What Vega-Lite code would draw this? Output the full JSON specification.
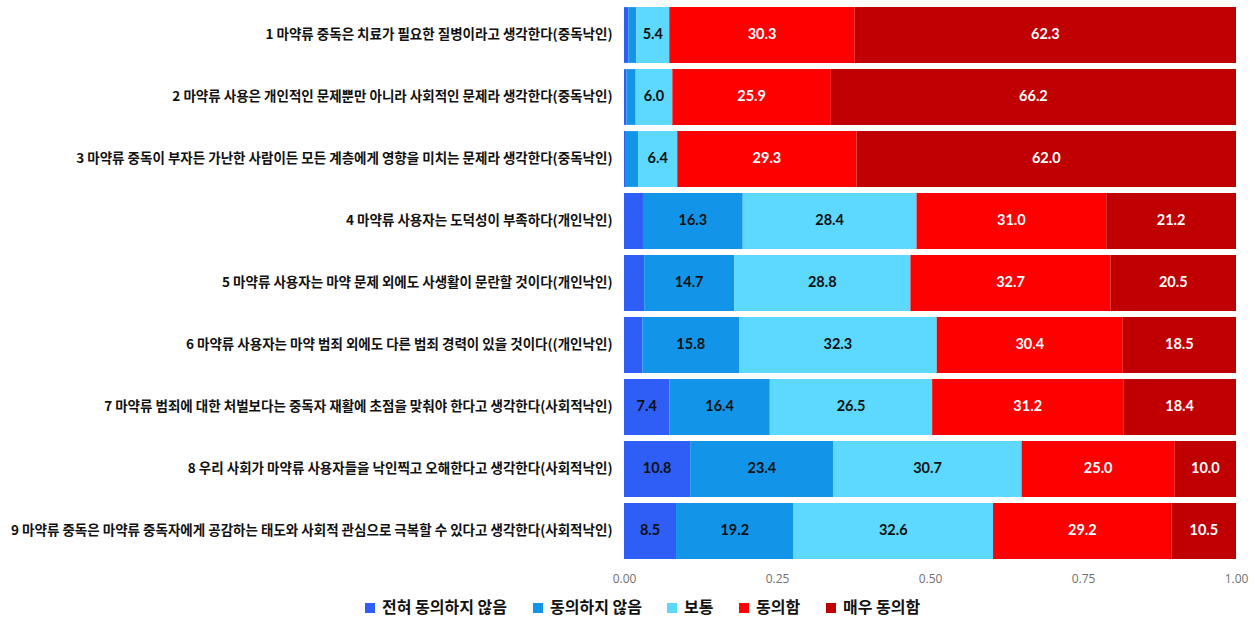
{
  "$schema": "https://vega.github.io/schema/vega-lite/v6.json",
  "autosize": {"type": "none"},
  "width": 612,
  "height": 558,
  "padding": {"left": 624, "top": 4, "right": 22, "bottom": 63},
  "background": "white",
  "config": {"view": {"stroke": null}},
  "data": {"values": [
    {"q": "1 마약류 중독은 치료가 필요한 질병이라고 생각한다(중독낙인)", "n": 1, "r": "전혀 동의하지 않음", "v": 0.7},
    {"q": "1 마약류 중독은 치료가 필요한 질병이라고 생각한다(중독낙인)", "n": 2, "r": "동의하지 않음", "v": 1.3},
    {"q": "1 마약류 중독은 치료가 필요한 질병이라고 생각한다(중독낙인)", "n": 3, "r": "보통", "v": 5.4},
    {"q": "1 마약류 중독은 치료가 필요한 질병이라고 생각한다(중독낙인)", "n": 4, "r": "동의함", "v": 30.3},
    {"q": "1 마약류 중독은 치료가 필요한 질병이라고 생각한다(중독낙인)", "n": 5, "r": "매우 동의함", "v": 62.3},
    {"q": "2 마약류 사용은 개인적인 문제뿐만 아니라 사회적인 문제라 생각한다(중독낙인)", "n": 1, "r": "전혀 동의하지 않음", "v": 0.4},
    {"q": "2 마약류 사용은 개인적인 문제뿐만 아니라 사회적인 문제라 생각한다(중독낙인)", "n": 2, "r": "동의하지 않음", "v": 1.5},
    {"q": "2 마약류 사용은 개인적인 문제뿐만 아니라 사회적인 문제라 생각한다(중독낙인)", "n": 3, "r": "보통", "v": 6.0},
    {"q": "2 마약류 사용은 개인적인 문제뿐만 아니라 사회적인 문제라 생각한다(중독낙인)", "n": 4, "r": "동의함", "v": 25.9},
    {"q": "2 마약류 사용은 개인적인 문제뿐만 아니라 사회적인 문제라 생각한다(중독낙인)", "n": 5, "r": "매우 동의함", "v": 66.2},
    {"q": "3 마약류 중독이 부자든 가난한 사람이든 모든 계층에게 영향을 미치는 문제라 생각한다(중독낙인)", "n": 1, "r": "전혀 동의하지 않음", "v": 0.3},
    {"q": "3 마약류 중독이 부자든 가난한 사람이든 모든 계층에게 영향을 미치는 문제라 생각한다(중독낙인)", "n": 2, "r": "동의하지 않음", "v": 2.0},
    {"q": "3 마약류 중독이 부자든 가난한 사람이든 모든 계층에게 영향을 미치는 문제라 생각한다(중독낙인)", "n": 3, "r": "보통", "v": 6.4},
    {"q": "3 마약류 중독이 부자든 가난한 사람이든 모든 계층에게 영향을 미치는 문제라 생각한다(중독낙인)", "n": 4, "r": "동의함", "v": 29.3},
    {"q": "3 마약류 중독이 부자든 가난한 사람이든 모든 계층에게 영향을 미치는 문제라 생각한다(중독낙인)", "n": 5, "r": "매우 동의함", "v": 62.0},
    {"q": "4 마약류 사용자는 도덕성이 부족하다(개인낙인)", "n": 1, "r": "전혀 동의하지 않음", "v": 3.1},
    {"q": "4 마약류 사용자는 도덕성이 부족하다(개인낙인)", "n": 2, "r": "동의하지 않음", "v": 16.3},
    {"q": "4 마약류 사용자는 도덕성이 부족하다(개인낙인)", "n": 3, "r": "보통", "v": 28.4},
    {"q": "4 마약류 사용자는 도덕성이 부족하다(개인낙인)", "n": 4, "r": "동의함", "v": 31.0},
    {"q": "4 마약류 사용자는 도덕성이 부족하다(개인낙인)", "n": 5, "r": "매우 동의함", "v": 21.2},
    {"q": "5 마약류 사용자는 마약 문제 외에도 사생활이 문란할 것이다(개인낙인)", "n": 1, "r": "전혀 동의하지 않음", "v": 3.3},
    {"q": "5 마약류 사용자는 마약 문제 외에도 사생활이 문란할 것이다(개인낙인)", "n": 2, "r": "동의하지 않음", "v": 14.7},
    {"q": "5 마약류 사용자는 마약 문제 외에도 사생활이 문란할 것이다(개인낙인)", "n": 3, "r": "보통", "v": 28.8},
    {"q": "5 마약류 사용자는 마약 문제 외에도 사생활이 문란할 것이다(개인낙인)", "n": 4, "r": "동의함", "v": 32.7},
    {"q": "5 마약류 사용자는 마약 문제 외에도 사생활이 문란할 것이다(개인낙인)", "n": 5, "r": "매우 동의함", "v": 20.5},
    {"q": "6 마약류 사용자는 마약 범죄 외에도 다른 범죄 경력이 있을 것이다((개인낙인)", "n": 1, "r": "전혀 동의하지 않음", "v": 3.0},
    {"q": "6 마약류 사용자는 마약 범죄 외에도 다른 범죄 경력이 있을 것이다((개인낙인)", "n": 2, "r": "동의하지 않음", "v": 15.8},
    {"q": "6 마약류 사용자는 마약 범죄 외에도 다른 범죄 경력이 있을 것이다((개인낙인)", "n": 3, "r": "보통", "v": 32.3},
    {"q": "6 마약류 사용자는 마약 범죄 외에도 다른 범죄 경력이 있을 것이다((개인낙인)", "n": 4, "r": "동의함", "v": 30.4},
    {"q": "6 마약류 사용자는 마약 범죄 외에도 다른 범죄 경력이 있을 것이다((개인낙인)", "n": 5, "r": "매우 동의함", "v": 18.5},
    {"q": "7 마약류 범죄에 대한 처벌보다는 중독자 재활에 초점을 맞춰야 한다고 생각한다(사회적낙인)", "n": 1, "r": "전혀 동의하지 않음", "v": 7.4},
    {"q": "7 마약류 범죄에 대한 처벌보다는 중독자 재활에 초점을 맞춰야 한다고 생각한다(사회적낙인)", "n": 2, "r": "동의하지 않음", "v": 16.4},
    {"q": "7 마약류 범죄에 대한 처벌보다는 중독자 재활에 초점을 맞춰야 한다고 생각한다(사회적낙인)", "n": 3, "r": "보통", "v": 26.5},
    {"q": "7 마약류 범죄에 대한 처벌보다는 중독자 재활에 초점을 맞춰야 한다고 생각한다(사회적낙인)", "n": 4, "r": "동의함", "v": 31.2},
    {"q": "7 마약류 범죄에 대한 처벌보다는 중독자 재활에 초점을 맞춰야 한다고 생각한다(사회적낙인)", "n": 5, "r": "매우 동의함", "v": 18.4},
    {"q": "8 우리 사회가 마약류 사용자들을 낙인찍고 오해한다고 생각한다(사회적낙인)", "n": 1, "r": "전혀 동의하지 않음", "v": 10.8},
    {"q": "8 우리 사회가 마약류 사용자들을 낙인찍고 오해한다고 생각한다(사회적낙인)", "n": 2, "r": "동의하지 않음", "v": 23.4},
    {"q": "8 우리 사회가 마약류 사용자들을 낙인찍고 오해한다고 생각한다(사회적낙인)", "n": 3, "r": "보통", "v": 30.7},
    {"q": "8 우리 사회가 마약류 사용자들을 낙인찍고 오해한다고 생각한다(사회적낙인)", "n": 4, "r": "동의함", "v": 25.0},
    {"q": "8 우리 사회가 마약류 사용자들을 낙인찍고 오해한다고 생각한다(사회적낙인)", "n": 5, "r": "매우 동의함", "v": 10.0},
    {"q": "9 마약류 중독은 마약류 중독자에게 공감하는 태도와 사회적 관심으로 극복할 수 있다고 생각한다(사회적낙인)", "n": 1, "r": "전혀 동의하지 않음", "v": 8.5},
    {"q": "9 마약류 중독은 마약류 중독자에게 공감하는 태도와 사회적 관심으로 극복할 수 있다고 생각한다(사회적낙인)", "n": 2, "r": "동의하지 않음", "v": 19.2},
    {"q": "9 마약류 중독은 마약류 중독자에게 공감하는 태도와 사회적 관심으로 극복할 수 있다고 생각한다(사회적낙인)", "n": 3, "r": "보통", "v": 32.6},
    {"q": "9 마약류 중독은 마약류 중독자에게 공감하는 태도와 사회적 관심으로 극복할 수 있다고 생각한다(사회적낙인)", "n": 4, "r": "동의함", "v": 29.2},
    {"q": "9 마약류 중독은 마약류 중독자에게 공감하는 태도와 사회적 관심으로 극복할 수 있다고 생각한다(사회적낙인)", "n": 5, "r": "매우 동의함", "v": 10.5}
  ]},
  "transform": [
    {"stack": "v", "groupby": ["q"], "sort": [{"field": "n", "order": "ascending"}], "offset": "normalize", "as": ["x0", "x1"]},
    {"calculate": "(datum.x0 + datum.x1) / 2", "as": "xm"}
  ],
  "encoding": {
    "y": {
      "field": "q", "type": "nominal", "sort": null, "title": null,
      "scale": {"paddingInner": 0.1, "paddingOuter": 0.05},
      "axis": {
        "domain": false, "ticks": false, "labelLimit": 700, "labelPadding": 12,
        "labelFont": "Noto Sans CJK KR", "labelFontWeight": "bold", "labelFontSize": 13.5, "labelColor": "#111111"
      }
    }
  },
  "layer": [
    {
      "mark": {"type": "bar", "stroke": "white", "strokeWidth": 0},
      "encoding": {
        "x": {
          "field": "x0", "type": "quantitative", "title": null,
          "scale": {"domain": [0, 1], "nice": false},
          "axis": {
            "values": [0, 0.25, 0.5, 0.75, 1], "format": ".2f", "grid": false, "domain": false, "ticks": false,
            "labelPadding": 11, "labelFont": "Open Sans", "labelFontSize": 12, "labelColor": "#707070",
            "labelFlush": false
          }
        },
        "x2": {"field": "x1"},
        "color": {
          "field": "r", "type": "nominal",
          "sort": ["전혀 동의하지 않음", "동의하지 않음", "보통", "동의함", "매우 동의함"],
          "scale": {
            "domain": ["전혀 동의하지 않음", "동의하지 않음", "보통", "동의함", "매우 동의함"],
            "range": ["#2F5EF6", "#1295E8", "#5DD8FE", "#FF0000", "#C00000"]
          },
          "legend": {
            "title": null, "orient": "none", "direction": "horizontal",
            "legendX": -262, "legendY": 596,
            "symbolType": "square", "symbolSize": 100, "symbolStrokeWidth": 0,
            "labelFont": "Noto Sans CJK KR", "labelFontWeight": "bold", "labelFontSize": 16, "labelColor": "#111111",
            "columnPadding": 22, "labelOffset": 4, "labelLimit": 300
          }
        }
      }
    },
    {
      "transform": [{"filter": "datum.v >= 5"}],
      "mark": {"type": "text", "font": "Lato", "fontWeight": "bold", "fontSize": 14.5},
      "encoding": {
        "x": {"field": "xm", "type": "quantitative"},
        "text": {"field": "v", "type": "quantitative", "format": ".1f"},
        "color": {
          "condition": {"test": "datum.n >= 4", "value": "white"},
          "value": "#111111"
        }
      }
    }
  ]
}
